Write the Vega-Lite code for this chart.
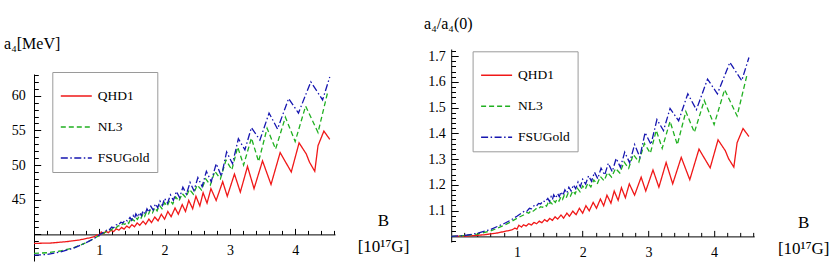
{
"$schema": "https://vega.github.io/schema/vega-lite/v6.json",
"background": "white",
"padding": {"left": 3, "top": 15, "right": 0, "bottom": 0},
"bounds": "flush",
"spacing": 116.2,
"config": {
  "view": {"stroke": null},
  "font": "Liberation Serif",
  "axis": {"grid": false, "domainColor": "#000", "domainWidth": 1, "tickColor": "#000", "tickWidth": 1, "labelColor": "#000", "labelFont": "Liberation Serif", "labelFontSize": 14, "titleFont": "Liberation Serif, DejaVu Serif", "titleFontWeight": "normal", "titleColor": "#000", "labelFlush": false, "labelOverlap": false},
  "legend": {"labelFont": "Liberation Serif", "labelFontSize": 13.5, "labelColor": "#000", "labelFontWeight": "normal", "padding": 7.5, "rowPadding": 8, "labelOffset": 5, "symbolType": "stroke", "symbolSize": 961, "symbolStrokeWidth": 1.6, "strokeColor": "#9a9a9a", "fillColor": "#ffffff", "labelLimit": 200}
},
"resolve": {"scale": {"color": "independent", "strokeDash": "independent"}},
"datasets": {
"L": [
{"s":"QHD1","b":0,"v":38.7},{"s":"QHD1","b":0.25,"v":38.75},{"s":"QHD1","b":0.5,"v":38.95},{"s":"QHD1","b":0.7,"v":39.2},{"s":"QHD1","b":0.85,"v":39.5},{"s":"QHD1","b":0.93,"v":39.7},{"s":"QHD1","b":0.97,"v":39.95},{"s":"QHD1","b":1.0,"v":39.8},{"s":"QHD1","b":1.03,"v":40.35},{"s":"QHD1","b":1.07,"v":40.1},{"s":"QHD1","b":1.1,"v":40.45},{"s":"QHD1","b":1.14,"v":40.25},{"s":"QHD1","b":1.18,"v":40.6},{"s":"QHD1","b":1.22,"v":40.4},{"s":"QHD1","b":1.26,"v":40.8},{"s":"QHD1","b":1.3,"v":40.6},{"s":"QHD1","b":1.34,"v":41.0},{"s":"QHD1","b":1.38,"v":40.75},{"s":"QHD1","b":1.42,"v":41.2},{"s":"QHD1","b":1.46,"v":40.95},{"s":"QHD1","b":1.5,"v":41.4},{"s":"QHD1","b":1.54,"v":41.1},{"s":"QHD1","b":1.58,"v":41.65},{"s":"QHD1","b":1.62,"v":41.3},{"s":"QHD1","b":1.67,"v":41.9},{"s":"QHD1","b":1.71,"v":41.45},{"s":"QHD1","b":1.76,"v":42.2},{"s":"QHD1","b":1.8,"v":41.7},{"s":"QHD1","b":1.85,"v":42.5},{"s":"QHD1","b":1.9,"v":41.95},{"s":"QHD1","b":1.95,"v":42.9},{"s":"QHD1","b":2.0,"v":42.2},{"s":"QHD1","b":2.05,"v":43.3},{"s":"QHD1","b":2.1,"v":42.55},{"s":"QHD1","b":2.16,"v":43.8},{"s":"QHD1","b":2.21,"v":42.9},{"s":"QHD1","b":2.27,"v":44.3},{"s":"QHD1","b":2.32,"v":43.3},{"s":"QHD1","b":2.37,"v":44.9},{"s":"QHD1","b":2.43,"v":43.7},{"s":"QHD1","b":2.48,"v":45.5},{"s":"QHD1","b":2.54,"v":44.1},{"s":"QHD1","b":2.59,"v":46.0},{"s":"QHD1","b":2.65,"v":44.5},{"s":"QHD1","b":2.71,"v":46.6},{"s":"QHD1","b":2.79,"v":44.9},{"s":"QHD1","b":2.89,"v":47.6},{"s":"QHD1","b":2.96,"v":45.5},{"s":"QHD1","b":3.07,"v":48.7},{"s":"QHD1","b":3.16,"v":46.1},{"s":"QHD1","b":3.27,"v":49.8},{"s":"QHD1","b":3.37,"v":46.6},{"s":"QHD1","b":3.5,"v":50.6},{"s":"QHD1","b":3.63,"v":47.2},{"s":"QHD1","b":3.77,"v":51.8},{"s":"QHD1","b":3.94,"v":49.0},{"s":"QHD1","b":4.06,"v":53.2},{"s":"QHD1","b":4.17,"v":51.6},{"s":"QHD1","b":4.22,"v":50.4},{"s":"QHD1","b":4.3,"v":49.1},{"s":"QHD1","b":4.35,"v":52.8},{"s":"QHD1","b":4.44,"v":54.9},{"s":"QHD1","b":4.53,"v":53.7},
{"s":"NL3","b":0,"v":37.25},{"s":"NL3","b":0.2,"v":37.35},{"s":"NL3","b":0.4,"v":37.6},{"s":"NL3","b":0.6,"v":38.05},{"s":"NL3","b":0.8,"v":38.8},{"s":"NL3","b":0.9,"v":39.3},{"s":"NL3","b":1.0,"v":39.85},{"s":"NL3","b":1.1,"v":40.35},{"s":"NL3","b":1.15,"v":40.7},{"s":"NL3","b":1.18,"v":40.6},{"s":"NL3","b":1.22,"v":41.0},{"s":"NL3","b":1.25,"v":40.9},{"s":"NL3","b":1.29,"v":41.25},{"s":"NL3","b":1.32,"v":41.15},{"s":"NL3","b":1.36,"v":41.55},{"s":"NL3","b":1.39,"v":41.45},{"s":"NL3","b":1.43,"v":41.8},{"s":"NL3","b":1.45,"v":41.6},{"s":"NL3","b":1.47,"v":42.0},{"s":"NL3","b":1.49,"v":41.75},{"s":"NL3","b":1.51,"v":42.2},{"s":"NL3","b":1.535,"v":41.95},{"s":"NL3","b":1.56,"v":42.4},{"s":"NL3","b":1.585,"v":42.15},{"s":"NL3","b":1.61,"v":42.65},{"s":"NL3","b":1.64,"v":42.35},{"s":"NL3","b":1.67,"v":42.95},{"s":"NL3","b":1.695,"v":42.6},{"s":"NL3","b":1.72,"v":43.2},{"s":"NL3","b":1.75,"v":42.85},{"s":"NL3","b":1.78,"v":43.5},{"s":"NL3","b":1.815,"v":43.1},{"s":"NL3","b":1.85,"v":43.85},{"s":"NL3","b":1.885,"v":43.4},{"s":"NL3","b":1.92,"v":44.2},{"s":"NL3","b":1.96,"v":43.7},{"s":"NL3","b":2.0,"v":44.55},{"s":"NL3","b":2.04,"v":44.05},{"s":"NL3","b":2.08,"v":44.95},{"s":"NL3","b":2.125,"v":44.4},{"s":"NL3","b":2.17,"v":45.4},{"s":"NL3","b":2.22,"v":44.8},{"s":"NL3","b":2.27,"v":45.9},{"s":"NL3","b":2.325,"v":45.3},{"s":"NL3","b":2.38,"v":46.5},{"s":"NL3","b":2.44,"v":45.8},{"s":"NL3","b":2.5,"v":47.1},{"s":"NL3","b":2.565,"v":46.4},{"s":"NL3","b":2.63,"v":48.0},{"s":"NL3","b":2.7,"v":47.1},{"s":"NL3","b":2.77,"v":49.1},{"s":"NL3","b":2.855,"v":48.0},{"s":"NL3","b":2.94,"v":50.7},{"s":"NL3","b":3.03,"v":49.3},{"s":"NL3","b":3.12,"v":52.6},{"s":"NL3","b":3.21,"v":50.0},{"s":"NL3","b":3.33,"v":53.9},{"s":"NL3","b":3.44,"v":50.5},{"s":"NL3","b":3.57,"v":55.3},{"s":"NL3","b":3.7,"v":52.3},{"s":"NL3","b":3.85,"v":56.9},{"s":"NL3","b":4.0,"v":53.4},{"s":"NL3","b":4.16,"v":58.5},{"s":"NL3","b":4.35,"v":54.7},{"s":"NL3","b":4.5,"v":60.6},
{"s":"FSUGold","b":0,"v":37.0},{"s":"FSUGold","b":0.2,"v":37.1},{"s":"FSUGold","b":0.4,"v":37.45},{"s":"FSUGold","b":0.6,"v":38.0},{"s":"FSUGold","b":0.8,"v":38.8},{"s":"FSUGold","b":0.9,"v":39.3},{"s":"FSUGold","b":1.0,"v":39.9},{"s":"FSUGold","b":1.08,"v":40.4},{"s":"FSUGold","b":1.12,"v":40.65},{"s":"FSUGold","b":1.15,"v":40.6},{"s":"FSUGold","b":1.19,"v":41.05},{"s":"FSUGold","b":1.22,"v":40.95},{"s":"FSUGold","b":1.26,"v":41.4},{"s":"FSUGold","b":1.29,"v":41.3},{"s":"FSUGold","b":1.33,"v":41.75},{"s":"FSUGold","b":1.36,"v":41.65},{"s":"FSUGold","b":1.4,"v":42.1},{"s":"FSUGold","b":1.43,"v":41.95},{"s":"FSUGold","b":1.47,"v":42.45},{"s":"FSUGold","b":1.495,"v":42.05},{"s":"FSUGold","b":1.52,"v":42.7},{"s":"FSUGold","b":1.54,"v":42.3},{"s":"FSUGold","b":1.56,"v":42.95},{"s":"FSUGold","b":1.59,"v":42.5},{"s":"FSUGold","b":1.62,"v":43.15},{"s":"FSUGold","b":1.645,"v":42.7},{"s":"FSUGold","b":1.67,"v":43.4},{"s":"FSUGold","b":1.7,"v":42.9},{"s":"FSUGold","b":1.73,"v":43.7},{"s":"FSUGold","b":1.76,"v":43.2},{"s":"FSUGold","b":1.79,"v":44.05},{"s":"FSUGold","b":1.825,"v":43.5},{"s":"FSUGold","b":1.86,"v":44.4},{"s":"FSUGold","b":1.895,"v":43.85},{"s":"FSUGold","b":1.93,"v":44.8},{"s":"FSUGold","b":1.965,"v":44.15},{"s":"FSUGold","b":2.0,"v":45.2},{"s":"FSUGold","b":2.045,"v":44.5},{"s":"FSUGold","b":2.09,"v":45.7},{"s":"FSUGold","b":2.135,"v":44.9},{"s":"FSUGold","b":2.18,"v":46.2},{"s":"FSUGold","b":2.23,"v":45.3},{"s":"FSUGold","b":2.28,"v":46.8},{"s":"FSUGold","b":2.335,"v":45.8},{"s":"FSUGold","b":2.39,"v":47.5},{"s":"FSUGold","b":2.45,"v":46.3},{"s":"FSUGold","b":2.51,"v":48.2},{"s":"FSUGold","b":2.575,"v":46.9},{"s":"FSUGold","b":2.64,"v":49.1},{"s":"FSUGold","b":2.715,"v":47.6},{"s":"FSUGold","b":2.79,"v":50.2},{"s":"FSUGold","b":2.87,"v":48.4},{"s":"FSUGold","b":2.95,"v":51.9},{"s":"FSUGold","b":3.04,"v":50.2},{"s":"FSUGold","b":3.13,"v":53.8},{"s":"FSUGold","b":3.23,"v":52.2},{"s":"FSUGold","b":3.33,"v":55.4},{"s":"FSUGold","b":3.46,"v":53.6},{"s":"FSUGold","b":3.6,"v":57.5},{"s":"FSUGold","b":3.73,"v":55.2},{"s":"FSUGold","b":3.9,"v":59.6},{"s":"FSUGold","b":4.05,"v":57.5},{"s":"FSUGold","b":4.24,"v":62.0},{"s":"FSUGold","b":4.42,"v":59.4},{"s":"FSUGold","b":4.53,"v":62.7}
],
"R": [
{"s":"QHD1","b":0,"v":1.0},{"s":"QHD1","b":0.25,"v":1.001},{"s":"QHD1","b":0.5,"v":1.006},{"s":"QHD1","b":0.7,"v":1.013},{"s":"QHD1","b":0.85,"v":1.021},{"s":"QHD1","b":0.93,"v":1.026},{"s":"QHD1","b":0.97,"v":1.032},{"s":"QHD1","b":1.0,"v":1.028},{"s":"QHD1","b":1.03,"v":1.043},{"s":"QHD1","b":1.07,"v":1.036},{"s":"QHD1","b":1.1,"v":1.045},{"s":"QHD1","b":1.14,"v":1.04},{"s":"QHD1","b":1.18,"v":1.049},{"s":"QHD1","b":1.22,"v":1.044},{"s":"QHD1","b":1.26,"v":1.054},{"s":"QHD1","b":1.3,"v":1.049},{"s":"QHD1","b":1.34,"v":1.059},{"s":"QHD1","b":1.38,"v":1.053},{"s":"QHD1","b":1.42,"v":1.065},{"s":"QHD1","b":1.46,"v":1.058},{"s":"QHD1","b":1.5,"v":1.07},{"s":"QHD1","b":1.54,"v":1.062},{"s":"QHD1","b":1.58,"v":1.076},{"s":"QHD1","b":1.62,"v":1.067},{"s":"QHD1","b":1.67,"v":1.083},{"s":"QHD1","b":1.71,"v":1.071},{"s":"QHD1","b":1.76,"v":1.09},{"s":"QHD1","b":1.8,"v":1.078},{"s":"QHD1","b":1.85,"v":1.098},{"s":"QHD1","b":1.9,"v":1.084},{"s":"QHD1","b":1.95,"v":1.109},{"s":"QHD1","b":2.0,"v":1.09},{"s":"QHD1","b":2.05,"v":1.119},{"s":"QHD1","b":2.1,"v":1.099},{"s":"QHD1","b":2.16,"v":1.132},{"s":"QHD1","b":2.21,"v":1.109},{"s":"QHD1","b":2.27,"v":1.145},{"s":"QHD1","b":2.32,"v":1.119},{"s":"QHD1","b":2.37,"v":1.16},{"s":"QHD1","b":2.43,"v":1.129},{"s":"QHD1","b":2.48,"v":1.176},{"s":"QHD1","b":2.54,"v":1.14},{"s":"QHD1","b":2.59,"v":1.189},{"s":"QHD1","b":2.65,"v":1.15},{"s":"QHD1","b":2.71,"v":1.204},{"s":"QHD1","b":2.79,"v":1.16},{"s":"QHD1","b":2.89,"v":1.23},{"s":"QHD1","b":2.96,"v":1.176},{"s":"QHD1","b":3.07,"v":1.258},{"s":"QHD1","b":3.16,"v":1.191},{"s":"QHD1","b":3.27,"v":1.287},{"s":"QHD1","b":3.37,"v":1.204},{"s":"QHD1","b":3.5,"v":1.307},{"s":"QHD1","b":3.63,"v":1.22},{"s":"QHD1","b":3.77,"v":1.339},{"s":"QHD1","b":3.94,"v":1.266},{"s":"QHD1","b":4.06,"v":1.375},{"s":"QHD1","b":4.17,"v":1.333},{"s":"QHD1","b":4.22,"v":1.302},{"s":"QHD1","b":4.3,"v":1.269},{"s":"QHD1","b":4.35,"v":1.364},{"s":"QHD1","b":4.44,"v":1.419},{"s":"QHD1","b":4.53,"v":1.388},
{"s":"NL3","b":0,"v":1.0},{"s":"NL3","b":0.2,"v":1.003},{"s":"NL3","b":0.4,"v":1.009},{"s":"NL3","b":0.6,"v":1.021},{"s":"NL3","b":0.8,"v":1.042},{"s":"NL3","b":0.9,"v":1.055},{"s":"NL3","b":1.0,"v":1.07},{"s":"NL3","b":1.1,"v":1.083},{"s":"NL3","b":1.15,"v":1.093},{"s":"NL3","b":1.18,"v":1.09},{"s":"NL3","b":1.22,"v":1.101},{"s":"NL3","b":1.25,"v":1.098},{"s":"NL3","b":1.29,"v":1.107},{"s":"NL3","b":1.32,"v":1.105},{"s":"NL3","b":1.36,"v":1.115},{"s":"NL3","b":1.39,"v":1.113},{"s":"NL3","b":1.43,"v":1.122},{"s":"NL3","b":1.45,"v":1.117},{"s":"NL3","b":1.47,"v":1.128},{"s":"NL3","b":1.49,"v":1.121},{"s":"NL3","b":1.51,"v":1.133},{"s":"NL3","b":1.535,"v":1.126},{"s":"NL3","b":1.56,"v":1.138},{"s":"NL3","b":1.585,"v":1.132},{"s":"NL3","b":1.61,"v":1.145},{"s":"NL3","b":1.64,"v":1.137},{"s":"NL3","b":1.67,"v":1.153},{"s":"NL3","b":1.695,"v":1.144},{"s":"NL3","b":1.72,"v":1.16},{"s":"NL3","b":1.75,"v":1.15},{"s":"NL3","b":1.78,"v":1.168},{"s":"NL3","b":1.815,"v":1.157},{"s":"NL3","b":1.85,"v":1.177},{"s":"NL3","b":1.885,"v":1.165},{"s":"NL3","b":1.92,"v":1.187},{"s":"NL3","b":1.96,"v":1.173},{"s":"NL3","b":2.0,"v":1.196},{"s":"NL3","b":2.04,"v":1.183},{"s":"NL3","b":2.08,"v":1.207},{"s":"NL3","b":2.125,"v":1.192},{"s":"NL3","b":2.17,"v":1.219},{"s":"NL3","b":2.22,"v":1.203},{"s":"NL3","b":2.27,"v":1.232},{"s":"NL3","b":2.325,"v":1.216},{"s":"NL3","b":2.38,"v":1.248},{"s":"NL3","b":2.44,"v":1.23},{"s":"NL3","b":2.5,"v":1.264},{"s":"NL3","b":2.565,"v":1.246},{"s":"NL3","b":2.63,"v":1.289},{"s":"NL3","b":2.7,"v":1.264},{"s":"NL3","b":2.77,"v":1.318},{"s":"NL3","b":2.855,"v":1.289},{"s":"NL3","b":2.94,"v":1.361},{"s":"NL3","b":3.03,"v":1.323},{"s":"NL3","b":3.12,"v":1.412},{"s":"NL3","b":3.21,"v":1.342},{"s":"NL3","b":3.33,"v":1.447},{"s":"NL3","b":3.44,"v":1.356},{"s":"NL3","b":3.57,"v":1.485},{"s":"NL3","b":3.7,"v":1.404},{"s":"NL3","b":3.85,"v":1.528},{"s":"NL3","b":4.0,"v":1.434},{"s":"NL3","b":4.16,"v":1.57},{"s":"NL3","b":4.35,"v":1.468},{"s":"NL3","b":4.5,"v":1.627},
{"s":"FSUGold","b":0,"v":1.0},{"s":"FSUGold","b":0.2,"v":1.003},{"s":"FSUGold","b":0.4,"v":1.012},{"s":"FSUGold","b":0.6,"v":1.027},{"s":"FSUGold","b":0.8,"v":1.049},{"s":"FSUGold","b":0.9,"v":1.062},{"s":"FSUGold","b":1.0,"v":1.078},{"s":"FSUGold","b":1.08,"v":1.092},{"s":"FSUGold","b":1.12,"v":1.099},{"s":"FSUGold","b":1.15,"v":1.097},{"s":"FSUGold","b":1.19,"v":1.109},{"s":"FSUGold","b":1.22,"v":1.107},{"s":"FSUGold","b":1.26,"v":1.119},{"s":"FSUGold","b":1.29,"v":1.116},{"s":"FSUGold","b":1.33,"v":1.128},{"s":"FSUGold","b":1.36,"v":1.126},{"s":"FSUGold","b":1.4,"v":1.138},{"s":"FSUGold","b":1.43,"v":1.134},{"s":"FSUGold","b":1.47,"v":1.147},{"s":"FSUGold","b":1.495,"v":1.136},{"s":"FSUGold","b":1.52,"v":1.154},{"s":"FSUGold","b":1.54,"v":1.143},{"s":"FSUGold","b":1.56,"v":1.161},{"s":"FSUGold","b":1.59,"v":1.149},{"s":"FSUGold","b":1.62,"v":1.166},{"s":"FSUGold","b":1.645,"v":1.154},{"s":"FSUGold","b":1.67,"v":1.173},{"s":"FSUGold","b":1.7,"v":1.159},{"s":"FSUGold","b":1.73,"v":1.181},{"s":"FSUGold","b":1.76,"v":1.168},{"s":"FSUGold","b":1.79,"v":1.191},{"s":"FSUGold","b":1.825,"v":1.176},{"s":"FSUGold","b":1.86,"v":1.2},{"s":"FSUGold","b":1.895,"v":1.185},{"s":"FSUGold","b":1.93,"v":1.211},{"s":"FSUGold","b":1.965,"v":1.193},{"s":"FSUGold","b":2.0,"v":1.222},{"s":"FSUGold","b":2.045,"v":1.203},{"s":"FSUGold","b":2.09,"v":1.235},{"s":"FSUGold","b":2.135,"v":1.214},{"s":"FSUGold","b":2.18,"v":1.249},{"s":"FSUGold","b":2.23,"v":1.224},{"s":"FSUGold","b":2.28,"v":1.265},{"s":"FSUGold","b":2.335,"v":1.238},{"s":"FSUGold","b":2.39,"v":1.284},{"s":"FSUGold","b":2.45,"v":1.251},{"s":"FSUGold","b":2.51,"v":1.303},{"s":"FSUGold","b":2.575,"v":1.268},{"s":"FSUGold","b":2.64,"v":1.327},{"s":"FSUGold","b":2.715,"v":1.286},{"s":"FSUGold","b":2.79,"v":1.357},{"s":"FSUGold","b":2.87,"v":1.308},{"s":"FSUGold","b":2.95,"v":1.403},{"s":"FSUGold","b":3.04,"v":1.357},{"s":"FSUGold","b":3.13,"v":1.454},{"s":"FSUGold","b":3.23,"v":1.411},{"s":"FSUGold","b":3.33,"v":1.497},{"s":"FSUGold","b":3.46,"v":1.449},{"s":"FSUGold","b":3.6,"v":1.554},{"s":"FSUGold","b":3.73,"v":1.492},{"s":"FSUGold","b":3.9,"v":1.611},{"s":"FSUGold","b":4.05,"v":1.554},{"s":"FSUGold","b":4.24,"v":1.676},{"s":"FSUGold","b":4.42,"v":1.605},{"s":"FSUGold","b":4.53,"v":1.695}
]
},
"hconcat": [
{
  "width": 301, "height": 212,
  "data": {"name": "L"},
  "mark": {"type": "line", "strokeWidth": 1.3},
  "encoding": {
    "x": {"field": "b", "type": "quantitative", "scale": {"domain": [0, 4.61], "nice": false, "zero": false},
      "axis": {"values": [0.2,0.4,0.6,0.8,1,1.2,1.4,1.6,1.8,2,2.2,2.4,2.6,2.8,3,3.2,3.4,3.6,3.8,4,4.2,4.4,4.6],
        "labelExpr": "datum.value % 1 === 0 ? format(datum.value, 'd') : ''",
        "tickSize": {"condition": {"test": "datum.value % 1 === 0", "value": -6}, "value": -4},
        "labelPadding": 15, "offset": -26.6,
        "title": ["B", "[10¹⁷G]"], "titleX": 349, "titleY": -14, "titleAlign": "center", "titleBaseline": "middle", "titleAngle": 0, "titleFontSize": 17, "titleLineHeight": 26}},
    "y": {"field": "v", "type": "quantitative", "scale": {"domain": [36.16, 66.74], "nice": false, "zero": false},
      "axis": {"values": [37,38,39,40,41,42,43,44,45,46,47,48,49,50,51,52,53,54,55,56,57,58,59,60,61,62,63],
        "labelExpr": "datum.value % 5 === 0 && datum.value > 40 ? format(datum.value, 'd') : ''",
        "tickSize": {"condition": {"test": "datum.value % 5 === 0", "value": -6.7}, "value": -4.3},
        "labelPadding": 15.5, "domainDash": [187, 100],
        "title": "a₄[MeV]", "titleX": -30.4, "titleY": -0.5, "titleAngle": 0, "titleAlign": "left", "titleBaseline": "alphabetic", "titleFontSize": 16}},
    "color": {"field": "s", "type": "nominal", "scale": {"domain": ["QHD1", "NL3", "FSUGold"], "range": ["#f01818", "#20b020", "#1616b0"]},
      "legend": {"orient": "none", "legendX": 18.3, "legendY": 23, "title": null}},
    "strokeDash": {"field": "s", "type": "nominal", "scale": {"domain": ["QHD1", "NL3", "FSUGold"], "range": [[1, 0], [5, 3], [7, 2.5, 1.5, 2.5]]},
      "legend": {"orient": "none", "legendX": 18.3, "legendY": 23, "title": null}}
  }
},
{
  "width": 303, "height": 193,
  "data": {"name": "R"},
  "mark": {"type": "line", "strokeWidth": 1.3},
  "encoding": {
    "x": {"field": "b", "type": "quantitative", "scale": {"domain": [0, 4.61], "nice": false, "zero": false},
      "axis": {"values": [0.2,0.4,0.6,0.8,1,1.2,1.4,1.6,1.8,2,2.2,2.4,2.6,2.8,3,3.2,3.4,3.6,3.8,4,4.2,4.4,4.6],
        "labelExpr": "datum.value % 1 === 0 ? format(datum.value, 'd') : ''",
        "tickSize": {"condition": {"test": "datum.value % 1 === 0", "value": -6}, "value": -4},
        "labelPadding": 15, "offset": -5.6,
        "title": ["B", "[10¹⁷G]"], "titleX": 352, "titleY": -14, "titleAlign": "center", "titleBaseline": "middle", "titleAngle": 0, "titleFontSize": 17, "titleLineHeight": 26}},
    "y": {"field": "v", "type": "quantitative", "scale": {"domain": [0.978, 1.728], "nice": false, "zero": false},
      "axis": {"values": [0.98,1,1.02,1.04,1.06,1.08,1.1,1.12,1.14,1.16,1.18,1.2,1.22,1.24,1.26,1.28,1.3,1.32,1.34,1.36,1.38,1.4,1.42,1.44,1.46,1.48,1.5,1.52,1.54,1.56,1.58,1.6,1.62,1.64,1.66,1.68,1.7,1.72],
        "labelExpr": "abs(datum.value*10 - round(datum.value*10)) < 0.001 && datum.value > 1.05 ? format(datum.value, '.1f') : ''",
        "tickSize": {"condition": {"test": "abs(datum.value*10 - round(datum.value*10)) < 0.001", "value": -7}, "value": -4.3},
        "labelPadding": 13,
        "title": "a₄/a₄(0)", "titleX": -27.6, "titleY": -21, "titleAngle": 0, "titleAlign": "left", "titleBaseline": "alphabetic", "titleFontSize": 16}},
    "color": {"field": "s", "type": "nominal", "scale": {"domain": ["QHD1", "NL3", "FSUGold"], "range": ["#f01818", "#20b020", "#1616b0"]},
      "legend": {"orient": "none", "legendX": 21.4, "legendY": 2.3, "title": null}},
    "strokeDash": {"field": "s", "type": "nominal", "scale": {"domain": ["QHD1", "NL3", "FSUGold"], "range": [[1, 0], [5, 3], [7, 2.5, 1.5, 2.5]]},
      "legend": {"orient": "none", "legendX": 21.4, "legendY": 2.3, "title": null}}
  }
}
]
}
